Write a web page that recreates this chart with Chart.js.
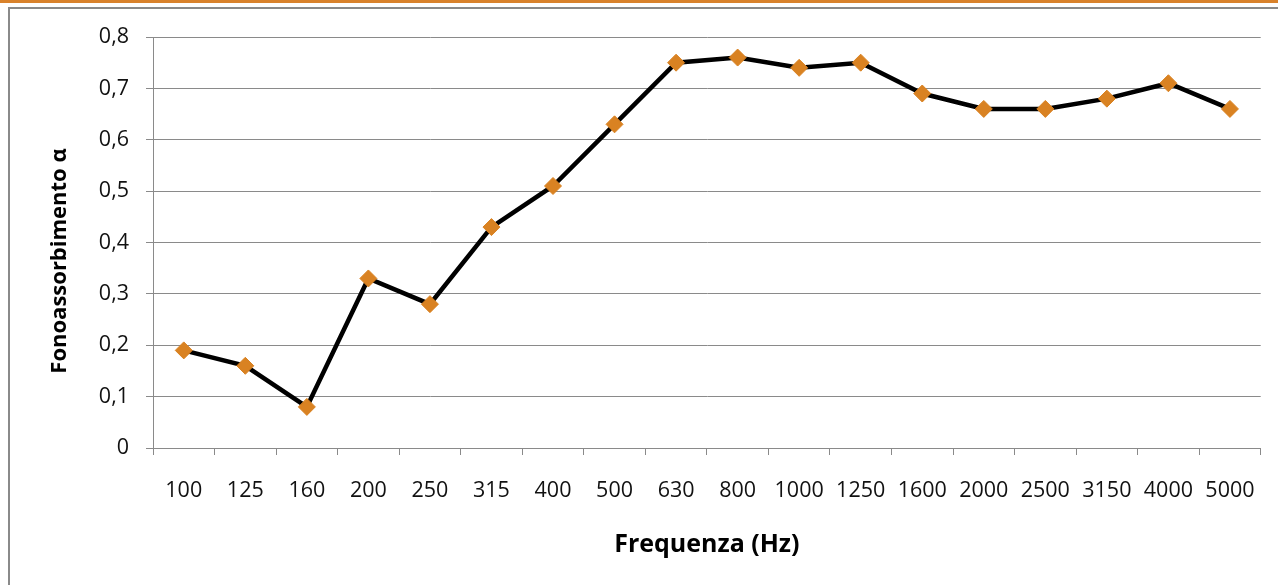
<!DOCTYPE html>
<html lang="it">
<head>
    <meta charset="UTF-8">
    <title>Fonoassorbimento</title>
    <script src="https://cdn.jsdelivr.net/npm/chart.js"></script>
    <style>
        html, body { margin: 0; padding: 0; background: #fff; }
        body { width: 1278px; height: 585px; position: relative; overflow: hidden; }
        .topband { position: absolute; left: 0; top: 0; width: 1278px; height: 3px; background: #d9822b; }
        .frame { position: absolute; left: 8px; top: 7px; width: 1290px; height: 600px; border-top: 2px solid #8a8a8a; border-left: 2px solid #8a8a8a; }
        #wrap { position: absolute; left: 0; top: 0; width: 1278px; height: 585px; }
    </style>
</head>
<body>
<div class="topband"></div>
<div class="frame"></div>
<div id="wrap"><canvas id="chart"></canvas></div>
<script>
    // frequenze (Hz) e coefficiente di assorbimento
    const frequencies = ['100', '125', '160', '200', '250', '315', '400', '500', '630', '800',
        '1000', '1250', '1600', '2000', '2500', '3150', '4000', '5000'];
    const alpha = [0.19, 0.16, 0.08, 0.33, 0.28, 0.43, 0.51, 0.63, 0.75, 0.76,
        0.74, 0.75, 0.69, 0.66, 0.66, 0.68, 0.71, 0.66];
    const yTicks = [0, 0.1, 0.2, 0.3, 0.4, 0.5, 0.6, 0.7, 0.8];
    const yTitle = 'Fonoassorbimento α';
    const xTitle = 'Frequenza (Hz)';

    const FONT = "'Open Sans', sans-serif";

    // titolo asse Y disegnato a mano (in Excel non è centrato sull'area)
    const yTitlePlugin = {
        id: 'yTitle',
        afterDraw(chart) {
            const ctx = chart.ctx;
            ctx.save();
            ctx.translate(60, 261);
            ctx.rotate(-Math.PI / 2);
            ctx.font = 'bold 22px ' + FONT;
            ctx.fillStyle = '#000';
            ctx.textAlign = 'center';
            ctx.textBaseline = 'middle';
            ctx.fillText(yTitle, 0, 0);
            ctx.restore();
        }
    };

    new Chart(document.getElementById('chart'), {
        type: 'line',
        data: {
            labels: frequencies,
            datasets: [{
                label: yTitle,
                data: alpha,
                borderColor: '#000',
                borderWidth: 4.5,
                pointStyle: 'rectRot',
                pointRadius: 8.5,
                pointBorderWidth: 1,
                pointBackgroundColor: '#d98222',
                pointBorderColor: '#d98222',
                tension: 0
            }]
        },
        options: {
            responsive: true,
            maintainAspectRatio: false,
            animation: false,
            layout: { padding: { left: 0, top: 37, right: 17, bottom: 0 } },
            plugins: { legend: { display: false }, tooltip: { enabled: false } },
            scales: {
                x: {
                    offset: true,
                    grid: { display: true, drawOnChartArea: false, offset: true, tickLength: 7, color: '#8a8a8a' },
                    border: { color: '#8a8a8a', width: 1 },
                    ticks: { color: '#111', font: { family: FONT, size: 21.5 }, padding: 23, maxRotation: 0, autoSkip: false },
                    title: { display: true, text: xTitle, color: '#000', font: { family: FONT, size: 25, weight: 'bold' }, padding: { top: 0, bottom: 25 } },
                    afterFit(scale) { scale.height = 585 - 448; }
                },
                y: {
                    min: 0,
                    max: 0.8,
                    afterBuildTicks(scale) { scale.ticks = yTicks.map(v => ({ value: v })); },
                    grid: { color: '#8a8a8a', tickLength: 7 },
                    border: { color: '#8a8a8a', width: 1 },
                    ticks: {
                        color: '#111',
                        font: { family: FONT, size: 21.5 },
                        padding: 17,
                        callback: v => String(Math.round(v * 10) / 10).replace('.', ',')
                    },
                    afterFit(scale) { scale.width = 153; }
                }
            }
        },
        plugins: [yTitlePlugin]
    });
</script>
</body>
</html>
